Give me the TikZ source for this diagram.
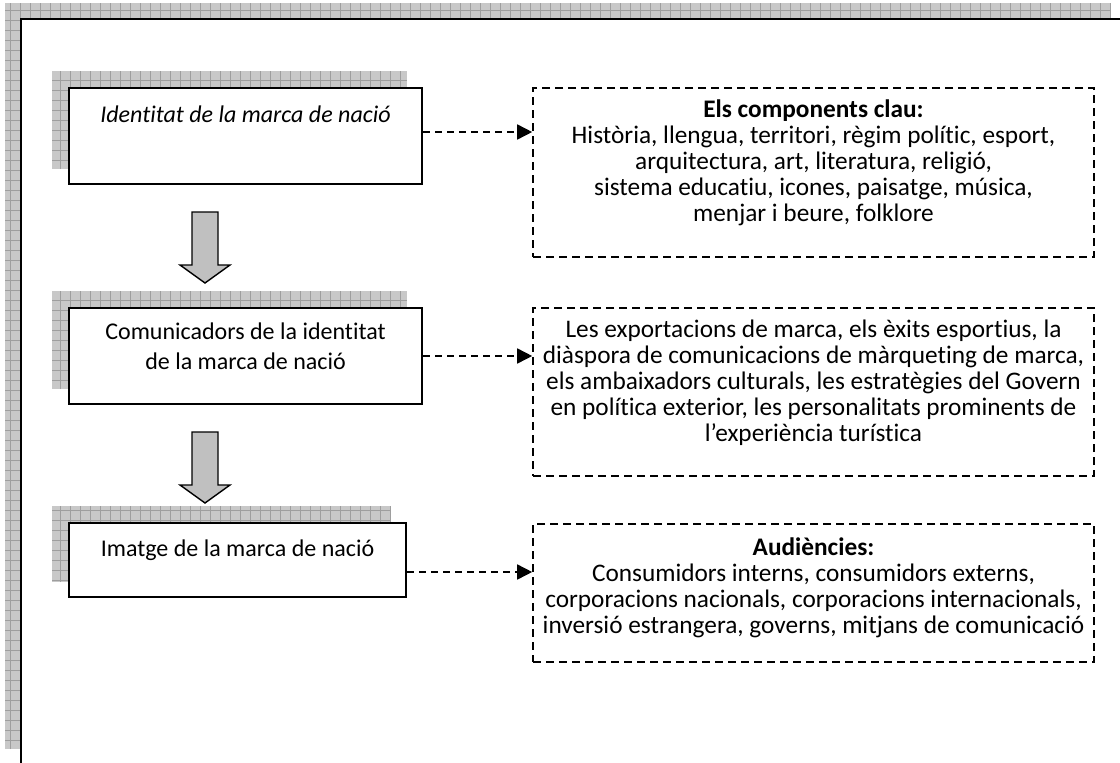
\documentclass[tikz,border=0pt]{standalone}
\usepackage{fontspec}
\setmainfont{Carlito}[RawFeature=-liga]
\usetikzlibrary{arrows.meta,calc}

\definecolor{shadowgray}{RGB}{200,200,200}
\definecolor{gridgray}{RGB}{158,158,158}
\definecolor{arrowgray}{RGB}{192,192,192}

\pgfdeclarelayer{frame}
\pgfdeclarelayer{shade}
\pgfsetlayers{frame,shade,main}

\tikzset{
  every node/.style={font=\fontsize{24pt}{29.3pt}\selectfont},
  hatchfill/.style={fill=shadowgray},
  hatchline/.style={draw=gridgray, line width=0.8pt},
  idbox/.style={draw=black, line width=2pt, fill=white, inner sep=0pt},
  infobox/.style={draw=black, line width=1.6pt, dash pattern=on 8pt off 5pt,
                  fill=white, inner sep=0pt, minimum width=561pt},
  txt/.style={align=center, anchor=base, inner sep=0pt},
  infotxt/.style={txt, font=\fontsize{25.3pt}{26pt}\selectfont},
  linkarrow/.style={draw=black, line width=1.6pt, dash pattern=on 7pt off 5pt,
                    -{Triangle[length=15pt,width=15pt]}},
  blockarrow/.style={fill=arrowgray, draw=black, line width=1.4pt, line join=miter},
  downarrow/.pic={
    \draw[blockarrow] (-13,0) -- (13,0) -- (13,53) -- (25,53) -- (0,71)
                      -- (-25,53) -- (-13,53) -- cycle;
  },
}

% grey textured drop shadow, offset up and to the left
\newcommand\hatchrect[2]{%
  \fill[hatchfill] #1 rectangle #2;
  \draw[hatchline, step=10pt] #1 grid #2;
}
\newcommand\boxshadow[1]{%
  \hatchrect{($(#1.north west)+(-16,-16)$)}{($(#1.south east)+(-16,-16)$)}%
}

\begin{document}
\begin{tikzpicture}[x=1pt,y=-1pt]
\useasboundingbox (0,0) rectangle (1120,763);

% page frame with its shadow
\begin{pgfonlayer}{frame}
  \hatchrect{(5,3)}{(1110,749)}
  \draw[line width=2.5pt, fill=white] (21,19) rectangle (1150,800);
\end{pgfonlayer}

% left column: the three stages
\node[idbox, minimum width=353pt, minimum height=96pt] (b1) at (245.5,136) {};
\node[idbox, minimum width=353pt, minimum height=96pt] (b2) at (245.5,356) {};
\node[idbox, minimum width=337pt, minimum height=74pt] (b3) at (237.5,560) {};

% multi-line texts sit on the baseline of their last line
\node[txt] (t1) at ([yshift=-35pt]b1.north) {\itshape Identitat de la marca de nació};
\node[txt] (t2) at ([yshift=-62pt]b2.north) {Comunicadors de la identitat\\de la marca de nació};
\node[txt] (t3) at ([yshift=-34pt]b3.north) {Imatge de la marca de nació};

\begin{pgfonlayer}{shade}
  \boxshadow{b1}
  \boxshadow{b2}
  \boxshadow{b3}
\end{pgfonlayer}

% right column: details of each stage
\node[infobox, minimum height=169pt] (dA) at (813.5,172.5) {};
\node[infobox, minimum height=168pt] (dB) at (813.5,392) {};
\node[infobox, minimum height=138pt] (dC) at (813.5,593) {};

\node[infotxt] (tA) at ([yshift=-134pt]dA.north) {\textbf{Els components clau:}\\
  Història, llengua, territori, règim polític, esport,\\
  arquitectura, art, literatura, religió,\\
  sistema educatiu, icones, paisatge, música,\\
  menjar i beure, folklore};
\node[infotxt] (tB) at ([yshift=-134pt]dB.north) {Les exportacions de marca, els èxits esportius, la\\
  diàspora de comunicacions de màrqueting de marca,\\
  els ambaixadors culturals, les estratègies del Govern\\
  en política exterior, les personalitats prominents de\\
  l’experiència turística};
\node[infotxt] (tC) at ([yshift=-110pt]dC.north) {\textbf{Audiències:}\\
  Consumidors interns, consumidors externs,\\
  corporacions nacionals, corporacions internacionals,\\
  inversió estrangera, governs, mitjans de comunicació};

% flow between stages
\pic (ar1) at (205,212) {downarrow};
\pic (ar2) at (205,432) {downarrow};

% links to the details
\draw[linkarrow] ([yshift=4pt]b1.east) -- ([yshift=4pt]b1.east -| dA.west);
\draw[linkarrow] (b2.east) -- (b2.east -| dB.west);
\draw[linkarrow] ([yshift=-12pt]b3.east) -- ([yshift=-12pt]b3.east -| dC.west);
\end{tikzpicture}
\end{document}
